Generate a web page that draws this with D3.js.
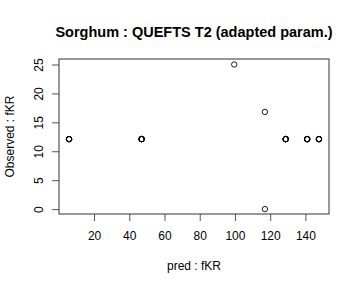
<!DOCTYPE html>
<html>
<head>
<meta charset="utf-8">
<script src="https://cdn.jsdelivr.net/npm/d3@7"></script>
<style>
  body { margin: 0; background: #fff; }
  text { font-family: "Liberation Sans", Arial, sans-serif; }
</style>
</head>
<body>
<svg id="chart" width="360" height="288"></svg>
<script>
const width = 360
const height = 288

// predicted vs observed fKR (bold points are several overlapping observations)
const pred = [5.8, 5.8, 5.8, 5.8, 5.8, 47, 47, 47, 47, 47, 99.6, 117, 117,
  128.8, 128.8, 128.8, 128.8, 128.8, 141, 141, 141, 141, 141, 147.7, 147.7, 147.7, 147.7, 147.7]
const obs = [12.1, 12.1, 12.1, 12.1, 12.1, 12.1, 12.1, 12.1, 12.1, 12.1, 25, 16.8, 0,
  12.1, 12.1, 12.1, 12.1, 12.1, 12.1, 12.1, 12.1, 12.1, 12.1, 12.1, 12.1, 12.1, 12.1, 12.1]
const xTicks = [20, 40, 60, 80, 100, 120, 140]
const yTicks = [0, 5, 10, 15, 20, 25]

const plot = { left: 59, right: 329, top: 59, bottom: 214 }

const svg = d3.select('#chart')

const x = d3.scaleLinear()
  .domain([0.1, 153.4])
  .range([plot.left, plot.right])

const y = d3.scaleLinear()
  .domain([-0.85, 25.95])
  .range([plot.bottom, plot.top])

const xAxis = svg.append('g')
  .attr('transform', `translate(0,${plot.bottom})`)
  .call(d3.axisBottom(x).tickValues(xTicks).tickSize(7).tickPadding(6).tickSizeOuter(0))
xAxis.select('.domain').remove()
xAxis.selectAll('line').attr('stroke', '#555')
xAxis.selectAll('text')
  .attr('font-size', '12px')
  .attr('fill', '#000')
  .attr('font-family', '"Liberation Sans", Arial, sans-serif')
  .attr('dy', null)
  .attr('y', 26)

const yAxis = svg.append('g')
  .attr('transform', `translate(${plot.left},0)`)
  .call(d3.axisLeft(y).tickValues(yTicks).tickSize(7).tickSizeOuter(0))
yAxis.select('.domain').remove()
yAxis.selectAll('line').attr('stroke', '#555')
yAxis.selectAll('text')
  .attr('font-size', '12px')
  .attr('fill', '#000')
  .attr('font-family', '"Liberation Sans", Arial, sans-serif')
  .attr('x', null)
  .attr('dy', null)
  .attr('text-anchor', 'middle')
  .attr('transform', 'translate(-16,0) rotate(-90)')

svg.append('rect')
  .attr('x', plot.left)
  .attr('y', plot.top)
  .attr('width', plot.right - plot.left)
  .attr('height', plot.bottom - plot.top)
  .attr('fill', 'none')
  .attr('stroke', '#333')
  .attr('stroke-width', 1)

svg.append('g')
  .selectAll('circle')
  .data(pred.map((p, i) => [p, obs[i]]))
  .enter()
  .append('circle')
  .attr('cx', (d) => x(d[0]))
  .attr('cy', (d) => y(d[1]))
  .attr('r', 2.7)
  .attr('fill', 'none')
  .attr('stroke', '#000')
  .attr('stroke-width', 0.9)

svg.append('text')
  .attr('x', (plot.left + plot.right) / 2)
  .attr('y', 37)
  .attr('text-anchor', 'middle')
  .attr('font-size', '14.5px')
  .attr('font-weight', 'bold')
  .text('Sorghum : QUEFTS T2 (adapted param.)')

svg.append('text')
  .attr('x', (plot.left + plot.right) / 2)
  .attr('y', 270)
  .attr('text-anchor', 'middle')
  .attr('font-size', '12px')
  .text('pred : fKR')

svg.append('text')
  .attr('transform', `translate(14,${(plot.top + plot.bottom) / 2}) rotate(-90)`)
  .attr('text-anchor', 'middle')
  .attr('font-size', '12px')
  .text('Observed : fKR')
</script>
</body>
</html>
